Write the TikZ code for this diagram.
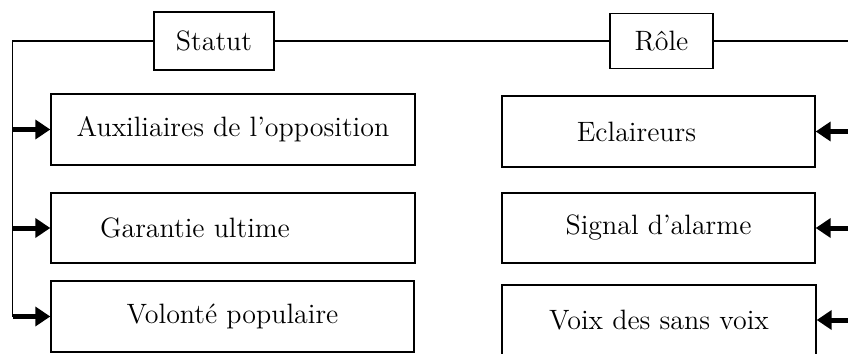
\documentclass[tikz,border=0pt]{standalone}
\usepackage{fontspec}
\usepackage{tikz}
\usetikzlibrary{arrows.meta}

\begin{document}
\begin{tikzpicture}[x=0.5pt,y=-0.5pt,
  box/.style={draw,line width=0.7pt,inner sep=0pt,font=\fontsize{14}{16}\selectfont},
  link/.style={line width=0.7pt},
  arr/.style={line width=2.5pt,-{Triangle[length=7.5pt,width=9.5pt]}}]
%\draw[help lines] (0,0) grid[step=50] (848,354);
\useasboundingbox (0,0) rectangle (848,354);
\coordinate (sl) at (12.5,41);
\coordinate (sr) at (848,41);
\node[box,minimum width=60pt,minimum height=29pt] (statut) at (214,41) {Statut};
\node[box,minimum width=51.5pt,minimum height=27.5pt] (role) at (661.5,41) {Rôle};
\node[box,minimum width=182pt,minimum height=35.5pt] (aux) at (233,129.5) {Auxiliaires de l’opposition};
\node[box,minimum width=182pt,minimum height=35pt] (gar) at (233,228) {Garantie ultime\kern38pt};
\node[box,minimum width=181.5pt,minimum height=35.5pt] (vol) at (232.5,316.5) {Volonté populaire};
\node[box,minimum width=156.5pt,minimum height=35.5pt] (ecl) at (658.5,131.5) {Eclaireurs\kern22pt};
\node[box,minimum width=156.5pt,minimum height=35pt] (sig) at (658.5,228) {Signal d’alarme};
\node[box,minimum width=157pt,minimum height=35pt] (voix) at (659,320) {Voix des sans voix};
% top line and left rail
\draw[link] (sl |- vol.west) -- (sl) -- (statut.west);
\draw[link] (statut.east) -- (role.west);
\draw[link] (role.east) -- (sr);
\draw[arr] (sl |- aux.west) -- (aux.west);
\draw[arr] (sl |- gar.west) -- (gar.west);
\draw[arr] (sl |- vol.west) -- (vol.west);
\draw[arr] (sr |- ecl.east) -- (ecl.east);
\draw[arr] (sr |- sig.east) -- (sig.east);
\draw[arr] (sr |- voix.east) -- (voix.east);
\end{tikzpicture}
\end{document}
